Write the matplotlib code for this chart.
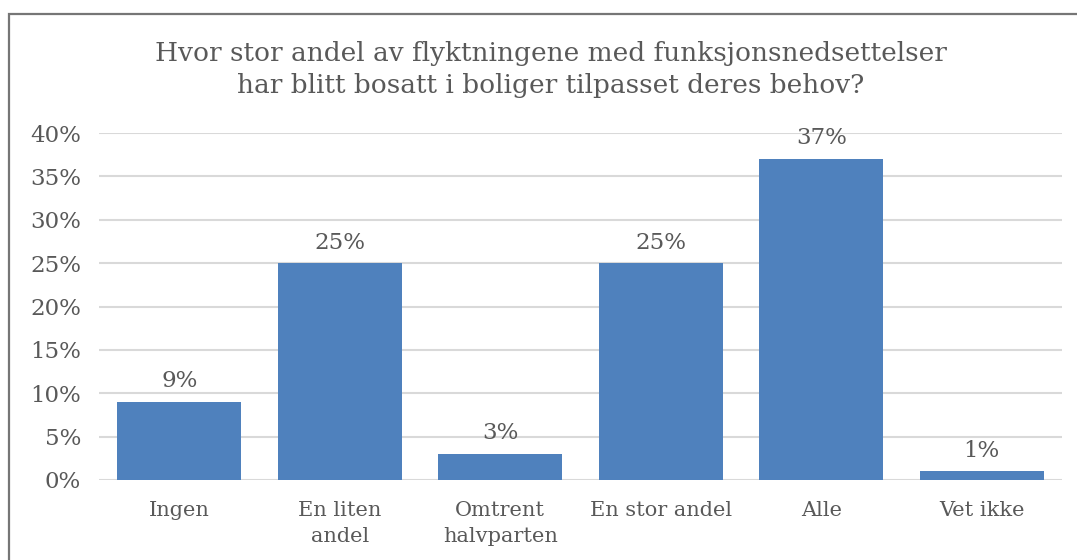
import matplotlib
matplotlib.use('Agg')
import matplotlib.pyplot as plt
from matplotlib.patches import Rectangle
from matplotlib.ticker import FuncFormatter

categories = ['Ingen', 'En liten\nandel', 'Omtrent\nhalvparten', 'En stor andel', 'Alle', 'Vet ikke']
values = [9, 25, 3, 25, 37, 1]
yticks = [0, 5, 10, 15, 20, 25, 30, 35, 40]
title = 'Hvor stor andel av flyktningene med funksjonsnedsettelser\nhar blitt bosatt i boliger tilpasset deres behov?'

text_col = '#595959'
plt.rcParams['font.family'] = ['DejaVu Serif']

fig = plt.figure(figsize=(10.77, 5.6), dpi=100)
ax = fig.add_axes([99 / 1077, 1 - 480 / 560, (1062 - 99) / 1077, (480 - 133) / 560])

x = range(len(categories))
ax.bar(x, values, width=0.77, color='#4F81BD', zorder=3)
for i, v in enumerate(values):
    ax.text(i, v + 1.1, f'{v}%', ha='center', va='bottom', fontsize=16.5, color=text_col)

ax.set_xlim(-0.5, len(categories) - 0.5)
ax.set_ylim(0, 40)
ax.set_yticks(yticks)
ax.yaxis.set_major_formatter(FuncFormatter(lambda v, p: f'{v:.0f}%'))
ax.set_xticks(list(x))
ax.set_xticklabels(categories, linespacing=1.45)
ax.tick_params(length=0, colors=text_col)
ax.tick_params(axis='y', labelsize=16.5, pad=13)
ax.tick_params(axis='x', labelsize=15, pad=15)
ax.grid(axis='y', color='#D9D9D9', linewidth=1.5, zorder=0)
for s in ax.spines.values():
    s.set_visible(False)

fig.text(0.5 + 12 / 1077, 1 - 69 / 560, title, ha='center', va='center', fontsize=19,
         color=text_col, linespacing=1.35)

fig.patches.append(Rectangle((9 / 1077, -0.1), 1.2, 1 - 14 / 560 + 0.1, transform=fig.transFigure,
                             fill=False, edgecolor='#767676', linewidth=1.6))

fig.savefig('out.png', dpi=100, facecolor='white')
